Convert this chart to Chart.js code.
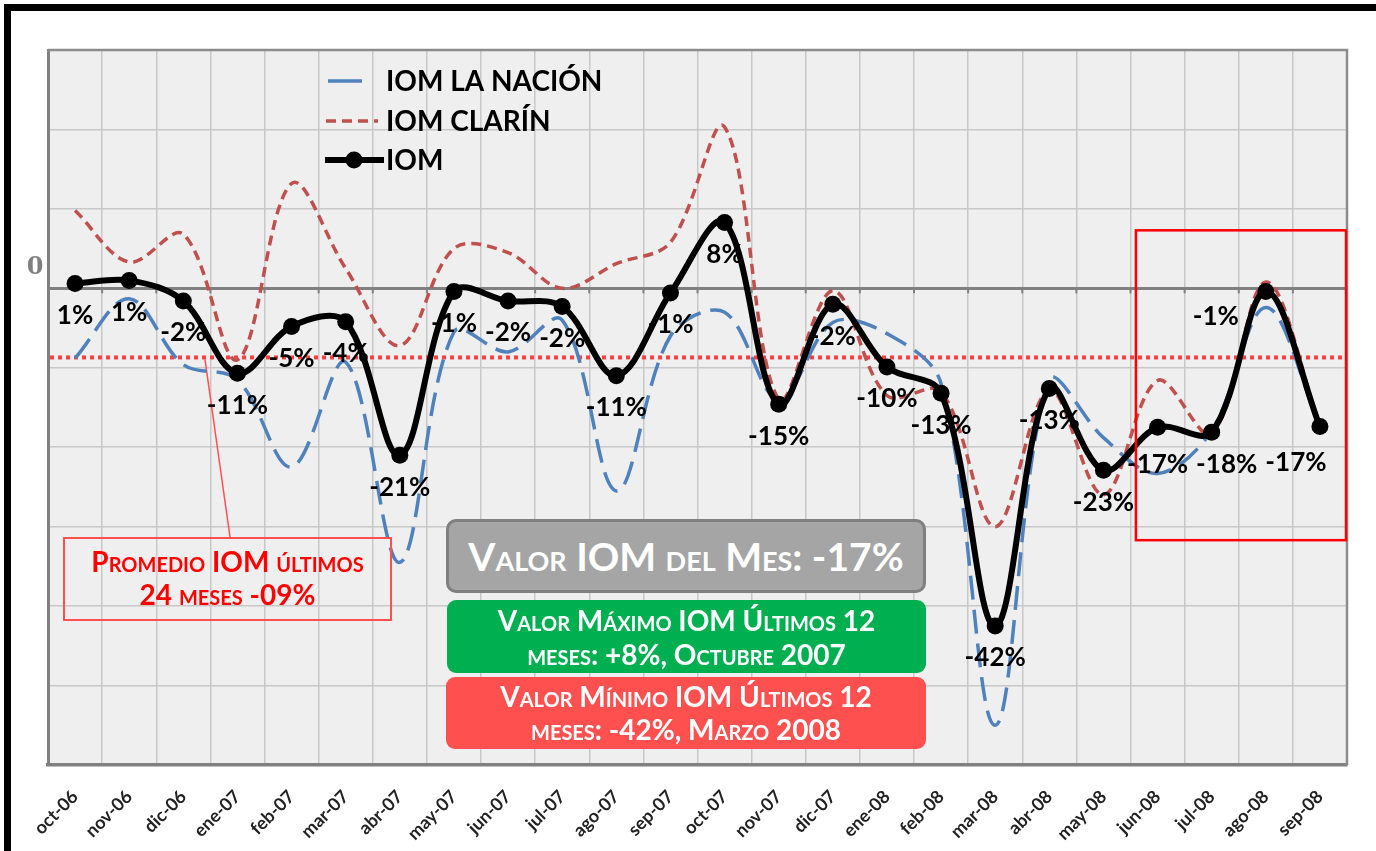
<!DOCTYPE html>
<html>
<head>
<meta charset="utf-8">
<script src="https://cdn.jsdelivr.net/npm/chart.js@4.4.1/dist/chart.umd.min.js"></script>
<style>
html,body{margin:0;padding:0;background:#fff;}
#wrap{position:relative;width:1376px;height:851px;overflow:hidden;background:#fff;}
#frame{position:absolute;left:4px;top:4px;width:1420px;height:900px;border-left:7px solid #000;border-top:7px solid #000;box-sizing:border-box;}
#c{position:absolute;left:0;top:0;}
.box{position:absolute;box-sizing:border-box;display:flex;flex-direction:column;align-items:center;justify-content:center;font-family:Lato,"Open Sans",sans-serif;font-weight:700;font-variant:small-caps;text-align:center;color:#fff;white-space:nowrap;}
#prom{left:63px;top:537px;width:329px;height:84px;border:2px solid #ff5050;color:#ff0000;font-size:28px;line-height:33px;padding-bottom:2px;}
#mes{left:446px;top:519px;width:480px;height:74px;background:#a5a5a5;border:3px solid #7f7f7f;border-radius:10px;font-size:39px;line-height:44px;}
#max{left:447px;top:600px;width:479px;height:73px;background:#00b050;border-radius:9px;font-size:28px;line-height:34px;}
#min{left:446px;top:677px;width:480px;height:72px;background:#ff5050;border-radius:9px;font-size:28px;line-height:33px;}
</style>
</head>
<body>
<div id="wrap">
  <div id="frame"></div>
  <canvas id="c" width="1376" height="851"></canvas>
  <div class="box" id="prom"><div>Promedio IOM últimos</div><div>24 meses -09%</div></div>
  <div class="box" id="mes"><div>Valor IOM del Mes: -17%</div></div>
  <div class="box" id="max"><div>Valor Máximo IOM Últimos 12</div><div>meses: +8%, Octubre 2007</div></div>
  <div class="box" id="min"><div>Valor Mínimo IOM Últimos 12</div><div>meses: -42%, Marzo 2008</div></div>
</div>
<script>
// ---------- DATA ----------
const months = ['oct-06','nov-06','dic-06','ene-07','feb-07','mar-07','abr-07','may-07','jun-07','jul-07','ago-07','sep-07',
                'oct-07','nov-07','dic-07','ene-08','feb-08','mar-08','abr-08','may-08','jun-08','jul-08','ago-08','sep-08'];
const iomValues = [0.6, 1.0, -1.6, -10.7, -4.8, -4.2, -21.0, -0.4, -1.6, -2.3, -11.0, -0.6,
                   8.3, -14.6, -2.0, -9.9, -13.2, -42.5, -12.6, -22.9, -17.5, -18.1, -0.4, -17.4];
const laNacionValues = [-8.8, -1.3, -9.6, -11.5, -22.5, -9.3, -34.5, -5.5, -8.0, -4.0, -25.5, -6.0,
                        -3.0, -14.0, -4.3, -5.7, -12.0, -55.0, -11.6, -18.8, -23.3, -17.9, -2.4, -17.2];
const clarinValues = [9.8, 3.3, 6.8, -9.0, 13.2, 2.5, -7.2, 5.0, 4.5, 0.0, 3.1, 5.8,
                      20.3, -14.0, -0.3, -13.5, -13.0, -30.0, -12.8, -26.0, -11.6, -18.3, 0.8, -17.2];
const iomLabels = ['1%','1%','-2%','-11%','-5%','-4%','-21%','-1%','-2%','-2%','-11%','-1%',
                   '8%','-15%','-2%','-10%','-13%','-42%','-13%','-23%','-17%','-18%','-1%','-17%'];
const seriesNames = ['IOM LA NACIÓN', 'IOM CLARÍN', 'IOM'];
const yMin = -60, yMax = 30, yStep = 10;
const promedio24 = -8.7;            // average line value
const highlightStart = 19.6;        // category position where highlight box begins
const highlightTop = 7.3, highlightBottom = -31.7;

// ---------- STYLE ----------
const BLUE = '#4f81bd', RED = '#c0504d';
const FONT = 'Lato, "Open Sans", sans-serif';

const decorPlugin = {
  id: 'decor',
  beforeDraw(chart) {
    const {ctx, chartArea: a} = chart;
    ctx.save();
    ctx.fillStyle = '#efefef';
    ctx.fillRect(a.left, a.top, a.right - a.left, a.bottom - a.top);
    ctx.restore();
  },
  beforeDatasetsDraw(chart) {
    const {ctx, chartArea: a, scales: {x, y}} = chart;
    ctx.save();
    ctx.strokeStyle = '#8c8c8c';
    ctx.lineWidth = 2.5;
    ctx.beginPath();
    ctx.moveTo(a.left, a.top); ctx.lineTo(a.right, a.top); ctx.lineTo(a.right, a.bottom);
    ctx.stroke();
    const y0 = y.getPixelForValue(0);
    ctx.strokeStyle = '#808080';
    ctx.lineWidth = 2;
    for (let i = 1; i < months.length; i++) {
      const xb = x.getPixelForValue(i - 0.5);
      ctx.beginPath(); ctx.moveTo(xb, y0); ctx.lineTo(xb, y0 + 5); ctx.stroke();
    }
    const ya = y.getPixelForValue(promedio24);
    ctx.strokeStyle = '#ff3f3f';
    ctx.lineWidth = 4;
    ctx.setLineDash([4, 4]);
    ctx.beginPath(); ctx.moveTo(a.left + 2, ya); ctx.lineTo(a.right, ya); ctx.stroke();
    ctx.setLineDash([]);
    ctx.strokeStyle = '#ff5050';
    ctx.lineWidth = 1.5;
    ctx.beginPath(); ctx.moveTo(x.getPixelForValue(2.4), ya + 2); ctx.lineTo(230, 537); ctx.stroke();
    ctx.restore();
  },
  afterDatasetsDraw(chart) {
    const {ctx, chartArea: a, scales: {x, y}} = chart;
    ctx.save();
    const meta = chart.getDatasetMeta(0);
    const nudge = {20: [0, 5], 21: [15, 0], 22: [-50, -7], 23: [-24, 4]};
    ctx.font = 'bold 26px ' + FONT;
    ctx.fillStyle = '#000';
    ctx.textAlign = 'center';
    ctx.textBaseline = 'middle';
    meta.data.forEach((pt, i) => {
      const n = nudge[i] || [0, 0];
      ctx.fillText(iomLabels[i], pt.x + n[0], pt.y + 32 + n[1]);
    });
    const hx = x.getPixelForValue(highlightStart);
    const ht = y.getPixelForValue(highlightTop);
    const hb = y.getPixelForValue(highlightBottom);
    ctx.strokeStyle = '#ff0000';
    ctx.lineWidth = 2.5;
    ctx.strokeRect(hx, ht, a.right - 1 - hx, hb - ht);
    ctx.restore();
  },
  afterDraw(chart) {
    const {ctx, scales: {y}} = chart;
    ctx.save();
    ctx.font = 'bold 24px "DejaVu Serif", serif';
    ctx.fillStyle = '#7f7f7f';
    ctx.textAlign = 'center';
    ctx.textBaseline = 'middle';
    ctx.fillText('0', 35, y.getPixelForValue(0) - 21);
    const lx = 326, tx = 386, rows = [81, 121, 160];
    ctx.font = 'bold 28px ' + FONT;
    ctx.fillStyle = '#000';
    ctx.textAlign = 'left';
    ctx.strokeStyle = BLUE; ctx.lineWidth = 3.5; ctx.lineCap = 'butt';
    ctx.beginPath(); ctx.moveTo(lx + 2, rows[0]); ctx.lineTo(lx + 36, rows[0]); ctx.stroke();
    ctx.strokeStyle = RED; ctx.setLineDash([10, 6]);
    ctx.beginPath(); ctx.moveTo(lx, rows[1]); ctx.lineTo(lx + 52, rows[1]); ctx.stroke();
    ctx.setLineDash([]);
    ctx.strokeStyle = '#000'; ctx.lineWidth = 6;
    ctx.beginPath(); ctx.moveTo(lx - 1, rows[2]); ctx.lineTo(lx + 58, rows[2]); ctx.stroke();
    ctx.beginPath(); ctx.arc(lx + 28, rows[2], 8.5, 0, Math.PI * 2); ctx.fill();
    seriesNames.forEach((s, i) => ctx.fillText(s, tx, rows[i] + 1));
    ctx.restore();
  }
};

new Chart(document.getElementById('c'), {
  type: 'line',
  data: {
    labels: months,
    datasets: [
      { label: seriesNames[2], data: iomValues, borderColor: '#000', backgroundColor: '#000',
        borderWidth: 6, pointRadius: 8.5, pointBackgroundColor: '#000', pointBorderWidth: 0,
        tension: 0.35, fill: false },
      { label: seriesNames[1], data: clarinValues, borderColor: RED, borderWidth: 3.5,
        borderDash: [10, 6], pointRadius: 0, tension: 0.35, fill: false },
      { label: seriesNames[0], data: laNacionValues, borderColor: BLUE, borderWidth: 3.5,
        borderDash: [24, 10], pointRadius: 0, tension: 0.35, fill: false }
    ]
  },
  options: {
    responsive: false,
    animation: false,
    devicePixelRatio: 1,
    layout: { padding: { top: 50, right: 29, left: 0, bottom: 0 } },
    plugins: { legend: { display: false }, tooltip: { enabled: false } },
    elements: { line: { capBezierPoints: false } },
    scales: {
      x: {
        offset: true,
        grid: { offset: true, color: '#c8c8c8', lineWidth: 1.5, drawTicks: false },
        border: { color: '#808080', width: 3.5 },
        ticks: { autoSkip: false, maxRotation: 45, minRotation: 45, padding: 21,
                 color: '#222', font: { family: FONT, weight: 'bold', size: 18 } },
        afterFit(s) { s.height = 86; }
      },
      y: {
        min: yMin, max: yMax,
        ticks: { stepSize: yStep, display: false },
        grid: {
          drawTicks: false,
          color: c => c.tick && c.tick.value === 0 ? '#808080' : '#c8c8c8',
          lineWidth: c => c.tick && c.tick.value === 0 ? 3 : 1.5
        },
        border: { color: '#808080', width: 3 },
        afterFit(s) { s.width = 48; }
      }
    }
  },
  plugins: [decorPlugin]
});
</script>
</body>
</html>
